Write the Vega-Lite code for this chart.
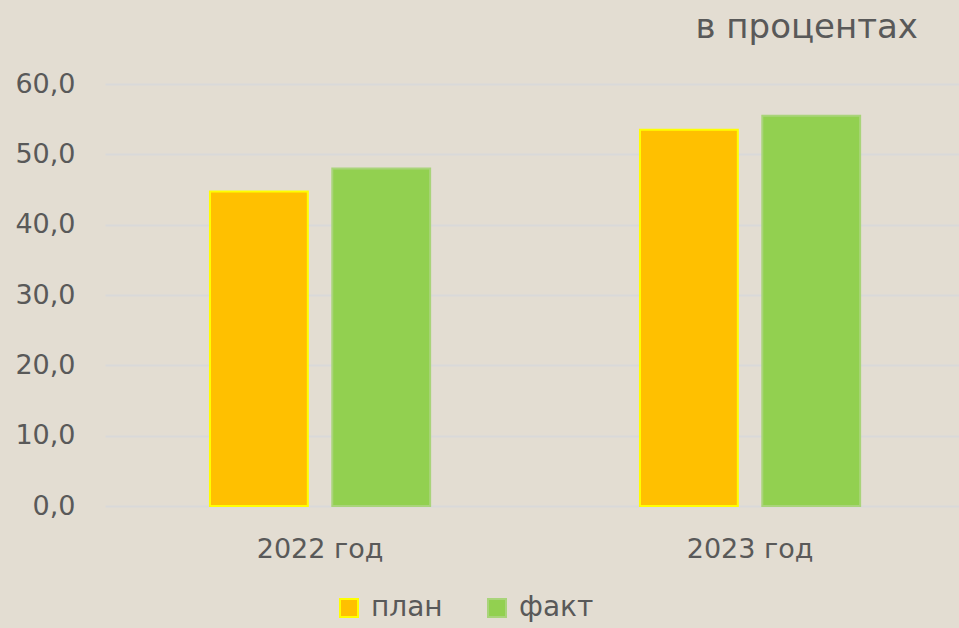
{
  "$schema": "https://vega.github.io/schema/vega-lite/v6.json",
  "autosize": "none",
  "width": 854,
  "height": 422,
  "padding": {"left": 105, "top": 84, "right": 0, "bottom": 122},
  "background": "#E3DDD2",
  "config": {
    "view": {"stroke": null},
    "font": "DejaVu Sans"
  },
  "title": {
    "text": "в процентах",
    "anchor": "end",
    "orient": "top",
    "baseline": "alphabetic",
    "offset": -2,
    "dx": -41,
    "fontSize": 34,
    "fontWeight": "normal",
    "color": "#595959",
    "font": "DejaVu Sans"
  },
  "data": {
    "values": [
      {"year": "2022 год", "series": "план", "value": 44.7},
      {"year": "2022 год", "series": "факт", "value": 48.0},
      {"year": "2023 год", "series": "план", "value": 53.5},
      {"year": "2023 год", "series": "факт", "value": 55.5}
    ]
  },
  "mark": {"type": "bar", "strokeWidth": 2},
  "encoding": {
    "x": {
      "field": "year",
      "type": "nominal",
      "title": null,
      "scale": {"paddingInner": 0.488, "paddingOuter": 0.237, "align": 0.515},
      "axis": {
        "labelAngle": 0,
        "labelFontSize": 27,
        "labelColor": "#595959",
        "labelPadding": 30,
        "ticks": false,
        "domain": false,
        "grid": false
      }
    },
    "xOffset": {
      "field": "series",
      "type": "nominal",
      "sort": ["план", "факт"],
      "scale": {"paddingInner": 0.2, "paddingOuter": 0}
    },
    "y": {
      "field": "value",
      "type": "quantitative",
      "title": null,
      "scale": {"domain": [0, 60], "nice": false},
      "axis": {
        "values": [0, 10, 20, 30, 40, 50, 60],
        "labelExpr": "replace(format(datum.value, '.1f'), '.', ',')",
        "labelFontSize": 27,
        "labelColor": "#595959",
        "labelPadding": 30,
        "ticks": false,
        "domain": false,
        "gridColor": "#D9D9D9",
        "gridWidth": 2
      }
    },
    "color": {
      "field": "series",
      "type": "nominal",
      "sort": ["план", "факт"],
      "scale": {"domain": ["план", "факт"], "range": ["#FFC000", "#92D050"]},
      "legend": {
        "title": null,
        "orient": "none",
        "direction": "horizontal",
        "legendX": 230,
        "legendY": 510,
        "symbolType": "square",
        "symbolSize": 324,
        "symbolStrokeWidth": 2,
        "symbolOpacity": 1,
        "labelFontSize": 28,
        "labelColor": "#595959",
        "labelOffset": 8,
        "columnPadding": 40
      }
    },
    "stroke": {
      "field": "series",
      "type": "nominal",
      "sort": ["план", "факт"],
      "scale": {"domain": ["план", "факт"], "range": ["#FFFF00", "#A9D47A"]}
    }
  }
}
